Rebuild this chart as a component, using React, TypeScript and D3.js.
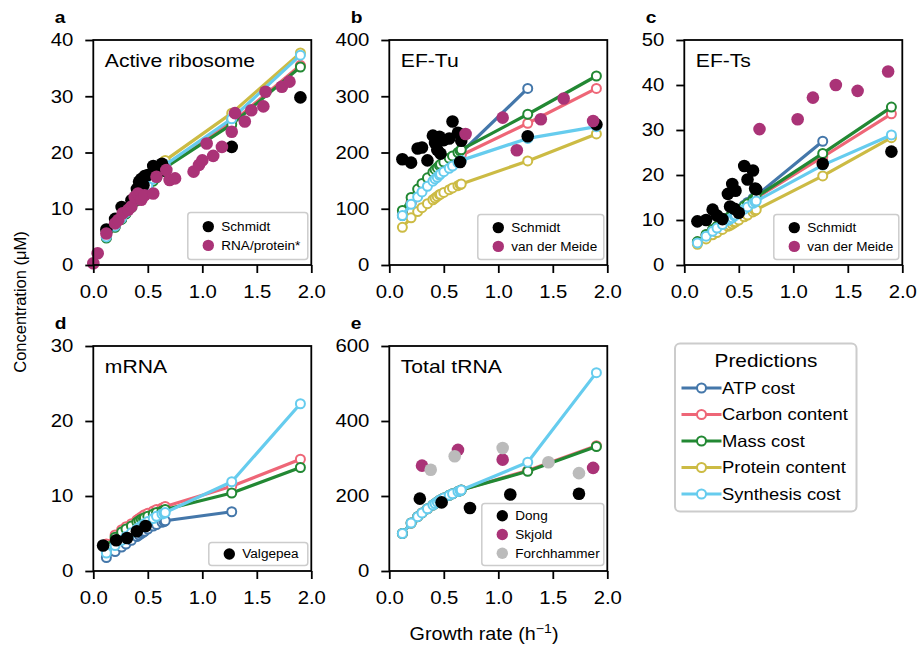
import React, { useEffect, useRef } from 'react';
import * as d3 from 'd3';

const FONT = '"Liberation Sans", Arial, Helvetica, sans-serif';
const SX = 1.13; // the reference glyphs are drawn a little wide

// growth rates (1/h) of the predicted conditions
const growthRates = [0.12, 0.20, 0.26, 0.30, 0.35, 0.40, 0.42, 0.44, 0.46, 0.47, 0.50, 0.55, 0.58, 0.63, 0.65, 0.66, 1.27, 1.90];

const modelNames = ['ATP cost', 'Carbon content', 'Mass cost', 'Protein content', 'Synthesis cost'];
const modelColors = ['#4477AA', '#EE6677', '#228833', '#CCBB44', '#66CCEE'];

// a: active ribosome
const riboATP = [4.9, 6.8, 8.2, 9.2, 10.4, 11.6, 12.1, 12.6, 13.0, 13.3, 14.0, 15.2, 15.9, 17.0, 17.4, 17.7, 25.6];
const riboCarbon = [4.9, 6.8, 8.2, 9.2, 10.4, 11.5, 12.0, 12.5, 13.0, 13.2, 13.9, 15.1, 15.8, 16.9, 17.3, 17.6, 25.3, 35.5];
const riboMass = [4.8, 6.7, 8.1, 9.1, 10.2, 11.4, 11.9, 12.3, 12.8, 13.0, 13.7, 14.9, 15.5, 16.6, 17.1, 17.3, 25.0, 35.2];
const riboProtein = [5.4, 7.3, 8.8, 9.8, 11.0, 12.3, 12.8, 13.3, 13.8, 14.0, 14.8, 16.0, 16.7, 17.9, 18.4, 18.6, 27.0, 37.7];
const riboSynthesis = [5.0, 6.9, 8.3, 9.3, 10.5, 11.7, 12.2, 12.7, 13.1, 13.4, 14.1, 15.3, 16.0, 17.1, 17.6, 17.8, 26.0, 37.3];
const schmidtRibo = [6.3, 8.2, 10.3, 9.8, 11.5, 13.5, 14.8, 15.3, 14.2, 15.8, 16.0, 17.6, 17.0, 18.0, 17.2, 16.8, 21.0, 29.8];
const rnaProteinX = [0.00, 0.04, 0.12, 0.20, 0.23, 0.27, 0.32, 0.35, 0.38, 0.41, 0.44, 0.47, 0.55, 0.58, 0.67, 0.70, 0.75, 0.92, 0.97, 1.00, 1.04, 1.10, 1.18, 1.27, 1.30, 1.39, 1.45, 1.56, 1.58, 1.73, 1.80];
const rnaProteinY = [0.3, 2.1, 5.6, 7.4, 8.0, 9.2, 9.8, 10.4, 12.1, 12.7, 11.6, 12.4, 12.7, 15.7, 16.9, 15.1, 15.4, 16.6, 17.8, 18.6, 21.6, 19.4, 21.0, 23.7, 27.0, 25.5, 27.5, 28.2, 30.8, 31.7, 32.6];

// b: EF-Tu
const tuATP = [88, 110, 124, 134, 145, 155, 160, 164, 168, 170, 175, 183, 188, 196, 199, 200, 314];
const tuCarbon = [90, 112, 126, 136, 146, 156, 160, 164, 168, 170, 174, 181, 185, 191, 193, 195, 252, 314];
const tuMass = [97, 120, 135, 145, 155, 165, 170, 173, 177, 179, 183, 190, 194, 200, 203, 205, 268, 336];
const tuProtein = [67, 84, 95, 102, 109, 116, 119, 122, 125, 126, 129, 134, 137, 141, 143, 144, 185, 233];
const tuSynthesis = [88, 108, 121, 130, 140, 149, 153, 156, 160, 162, 166, 172, 176, 182, 184, 186, 225, 246];
const schmidtTu = [188, 182, 207, 209, 186, 230, 217, 205, 228, 198, 222, 225, 255, 235, 183, 221, 229, 250];
const meideTuX = [0.70, 1.04, 1.17, 1.39, 1.60, 1.87];
const meideTuY = [233, 262, 204, 259, 296, 256];

// c: EF-Ts
const tsATP = [5.0, 6.6, 7.8, 8.5, 9.5, 10.4, 10.8, 11.2, 11.6, 11.8, 12.4, 13.3, 13.9, 14.8, 15.2, 15.4, 27.5];
const tsCarbon = [5.1, 6.7, 7.8, 8.5, 9.4, 10.3, 10.6, 11.0, 11.4, 11.6, 12.1, 13.0, 13.5, 14.4, 14.7, 14.9, 24.0, 33.6];
const tsMass = [5.2, 6.8, 7.9, 8.6, 9.5, 10.4, 10.8, 11.1, 11.5, 11.7, 12.2, 13.1, 13.6, 14.5, 14.9, 15.1, 24.8, 35.1];
const tsProtein = [4.6, 5.8, 6.7, 7.2, 7.9, 8.6, 8.8, 9.1, 9.4, 9.6, 10.0, 10.7, 11.1, 11.8, 12.1, 12.3, 19.8, 28.3];
const tsSynthesis = [4.9, 6.4, 7.5, 8.2, 9.0, 9.9, 10.2, 10.5, 10.9, 11.1, 11.6, 12.4, 12.9, 13.7, 14.0, 14.2, 22.2, 28.9];
const schmidtTs = [9.7, 10.0, 12.3, 11.0, 10.2, 15.8, 13.0, 18.0, 12.5, 16.5, 11.6, 22.0, 19.0, 21.0, 17.0, 16.8, 22.5, 25.2];
const meideTsX = [0.69, 1.04, 1.18, 1.39, 1.59, 1.87];
const meideTsY = [30.2, 32.4, 37.2, 40.0, 38.7, 43.0];

// d: mRNA
const mrnaATP = [1.8, 2.6, 3.2, 3.6, 4.1, 4.6, 4.8, 5.0, 5.2, 5.3, 5.6, 6.0, 6.2, 6.5, 6.6, 6.7, 7.9];
const mrnaCarbon = [3.6, 4.8, 5.5, 5.9, 6.3, 6.8, 7.0, 7.2, 7.4, 7.5, 7.7, 8.0, 8.2, 8.4, 8.5, 8.6, 11.3, 14.9];
const mrnaMass = [3.3, 4.5, 5.2, 5.6, 6.0, 6.5, 6.7, 6.9, 7.0, 7.1, 7.3, 7.6, 7.8, 8.0, 8.1, 8.2, 10.4, 13.8];
const mrnaSynthesis = [2.4, 3.4, 4.1, 4.6, 5.1, 5.6, 5.8, 6.0, 6.2, 6.3, 6.6, 7.0, 7.3, 7.6, 7.7, 7.8, 11.9, 22.3];
const valgepeaX = [0.09, 0.21, 0.31, 0.40, 0.48];
const valgepeaY = [3.4, 4.1, 4.4, 5.3, 6.0];

// e: total tRNA
const trnaCarbon = [100, 128, 145, 155, 166, 176, 180, 184, 188, 190, 195, 202, 206, 212, 214, 216, 268, 334];
const trnaMass = [100, 128, 145, 155, 166, 176, 180, 184, 188, 190, 195, 202, 206, 212, 214, 216, 266, 332];
const trnaSynthesis = [100, 128, 145, 155, 166, 176, 180, 184, 188, 190, 195, 202, 206, 212, 214, 216, 290, 529];
const dongX = [0.28, 0.48, 0.74, 1.11, 1.74];
const dongY = [193, 183, 168, 204, 206];
const skjoldX = [0.30, 0.63, 1.04, 1.87];
const skjoldY = [281, 323, 297, 275];
const forchX = [0.38, 0.60, 1.04, 1.46, 1.74];
const forchY = [270, 306, 328, 290, 261];

const PW = 218, PH = 225;

const panels = [
  { letter: 'a', title: 'Active ribosome', left: 93.3, top: 40, yMax: 40, yTicks: [0, 10, 20, 30, 40],
    preds: [riboATP, riboCarbon, riboMass, riboProtein, riboSynthesis],
    data: [{ name: 'Schmidt', color: '#000000', x: growthRates, y: schmidtRibo },
           { name: 'RNA/protein*', color: '#AA3377', x: rnaProteinX, y: rnaProteinY }],
    legW: 120, legH: 47 },
  { letter: 'b', title: 'EF-Tu', left: 389.3, top: 40, yMax: 400, yTicks: [0, 100, 200, 300, 400],
    preds: [tuATP, tuCarbon, tuMass, tuProtein, tuSynthesis],
    data: [{ name: 'Schmidt', color: '#000000', x: growthRates, y: schmidtTu },
           { name: 'van der Meide', color: '#AA3377', x: meideTuX, y: meideTuY }],
    legW: 126, legH: 45 },
  { letter: 'c', title: 'EF-Ts', left: 684.3, top: 40, yMax: 50, yTicks: [0, 10, 20, 30, 40, 50],
    preds: [tsATP, tsCarbon, tsMass, tsProtein, tsSynthesis],
    data: [{ name: 'Schmidt', color: '#000000', x: growthRates, y: schmidtTs },
           { name: 'van der Meide', color: '#AA3377', x: meideTsX, y: meideTsY }],
    legW: 125, legH: 45 },
  { letter: 'd', title: 'mRNA', left: 93.3, top: 346, yMax: 30, yTicks: [0, 10, 20, 30],
    preds: [mrnaATP, mrnaCarbon, mrnaMass, null, mrnaSynthesis],
    data: [{ name: 'Valgepea', color: '#000000', x: valgepeaX, y: valgepeaY }],
    legW: 99, legH: 23 },
  { letter: 'e', title: 'Total tRNA', left: 389.3, top: 346, yMax: 600, yTicks: [0, 200, 400, 600],
    preds: [null, trnaCarbon, trnaMass, null, trnaSynthesis],
    data: [{ name: 'Dong', color: '#000000', x: dongX, y: dongY },
           { name: 'Skjold', color: '#AA3377', x: skjoldX, y: skjoldY },
           { name: 'Forchhammer', color: '#BBBBBB', x: forchX, y: forchY }],
    legW: 122, legH: 62 },
];

const addText = (g, x, y, str, size, anchor = 'start', weight = 'normal') =>
  g.append('text')
    .attr('transform', `translate(${x},${y}) scale(${SX},1)`)
    .attr('font-family', FONT)
    .attr('font-size', size)
    .attr('font-weight', weight)
    .attr('text-anchor', anchor)
    .attr('fill', '#000')
    .text(str);

const draw = (el) => {
  const svg = d3.select(el);
  svg.selectAll('*').remove();

  panels.forEach(p => {
    const x = d3.scaleLinear().domain([0, 2]).range([p.left, p.left + PW]);
    const y = d3.scaleLinear().domain([0, p.yMax]).range([p.top + PH, p.top]);
    const g = svg.append('g');

    // model predictions: line + open circles
    p.preds.forEach((vals, k) => {
      if (!vals) return;
      const pts = vals.map((v, i) => [growthRates[i], v]);
      g.append('path')
        .datum(pts)
        .attr('d', d3.line().x(d => x(d[0])).y(d => y(d[1])))
        .attr('fill', 'none')
        .attr('stroke', modelColors[k])
        .attr('stroke-width', 3.2)
        .attr('stroke-linejoin', 'round');
      g.selectAll(null).data(pts).enter().append('circle')
        .attr('cx', d => x(d[0]))
        .attr('cy', d => y(d[1]))
        .attr('r', 4.5)
        .attr('fill', '#fff')
        .attr('stroke', modelColors[k])
        .attr('stroke-width', 2);
    });

    // measurements
    p.data.forEach(s => {
      g.selectAll(null).data(s.x.map((xv, i) => [xv, s.y[i]])).enter().append('circle')
        .attr('cx', d => x(d[0]))
        .attr('cy', d => y(d[1]))
        .attr('r', 6.3)
        .attr('fill', s.color);
    });

    // frame
    g.append('rect')
      .attr('x', p.left).attr('y', p.top).attr('width', PW).attr('height', PH)
      .attr('fill', 'none').attr('stroke', '#000').attr('stroke-width', 1.8);

    // axes
    const xAxis = g.append('g')
      .attr('transform', `translate(0,${p.top + PH})`)
      .call(d3.axisBottom(x).tickValues([0, 0.5, 1, 1.5, 2]).tickFormat(d3.format('.1f')).tickSize(8).tickPadding(12));
    const yAxis = g.append('g')
      .attr('transform', `translate(${p.left},0)`)
      .call(d3.axisLeft(y).tickValues(p.yTicks).tickFormat(d3.format('d')).tickSize(8).tickPadding(12));
    [xAxis, yAxis].forEach(a => {
      a.select('.domain').remove();
      a.selectAll('line').attr('stroke', '#000').attr('stroke-width', 1.8);
      a.selectAll('text').attr('font-family', FONT).attr('font-size', 18).attr('fill', '#000');
    });
    xAxis.selectAll('text').attr('transform', `scale(${SX},1)`);
    yAxis.selectAll('text').attr('x', null).attr('transform', `translate(-20,0) scale(${SX},1)`);

    // title and panel letter
    addText(g, p.left + 11.5, p.top + 26.7, p.title, 18.7);
    addText(g, p.left - 38.5, p.top - 17.5, p.letter, 17, 'start', 'bold');

    // measurement legend
    const lx = p.left + PW - 3.5 - p.legW;
    const ly = p.top + PH - 5.5 - p.legH;
    g.append('rect')
      .attr('x', lx).attr('y', ly).attr('width', p.legW).attr('height', p.legH)
      .attr('rx', 3).attr('fill', '#fff').attr('fill-opacity', 0.8)
      .attr('stroke', '#cccccc').attr('stroke-width', 1.5);
    const rowH = 18.8;
    const firstY = ly + p.legH / 2 - (p.data.length - 1) * rowH / 2;
    p.data.forEach((s, i) => {
      const ry = firstY + i * rowH;
      g.append('circle').attr('cx', lx + 20.5).attr('cy', ry).attr('r', 5.7).attr('fill', s.color);
      addText(g, lx + 33.5, ry + 4.4, s.name, 12);
    });
  });

  // predictions legend
  const L = svg.append('g');
  L.append('rect')
    .attr('x', 675).attr('y', 343.5).attr('width', 181.5).attr('height', 168)
    .attr('rx', 5).attr('fill', '#fff').attr('stroke', '#cccccc').attr('stroke-width', 2);
  addText(L, 766, 366.5, 'Predictions', 18.4, 'middle');
  modelNames.forEach((name, k) => {
    const ry = 388 + k * 26.5;
    L.append('line').attr('x1', 681.5).attr('x2', 721.5).attr('y1', ry).attr('y2', ry)
      .attr('stroke', modelColors[k]).attr('stroke-width', 3.2);
    L.append('circle').attr('cx', 701.5).attr('cy', ry).attr('r', 4.5)
      .attr('fill', '#fff').attr('stroke', modelColors[k]).attr('stroke-width', 2);
    addText(L, 722, ry + 5.8, name, 16.3);
  });

  // shared axis labels
  svg.append('text')
    .attr('transform', `translate(26,302) rotate(-90)`)
    .attr('font-family', FONT).attr('font-size', 16.5).attr('text-anchor', 'middle')
    .text('Concentration (μM)');
  const xl = svg.append('text')
    .attr('transform', `translate(484,640) scale(${SX},1)`)
    .attr('font-family', FONT).attr('font-size', 17.5).attr('text-anchor', 'middle');
  xl.append('tspan').text('Growth rate (h');
  xl.append('tspan').attr('font-size', 12.5).attr('dy', -7).text('−1');
  xl.append('tspan').attr('dy', 7).text(')');
};

const App = () => {
  const ref = useRef(null);
  useEffect(() => {
    draw(ref.current);
  }, []);
  return (
    <svg ref={ref} width={919} height={650}
      style={{ position: 'absolute', left: 0, top: 0, background: '#fff' }} />
  );
};

export default App;
